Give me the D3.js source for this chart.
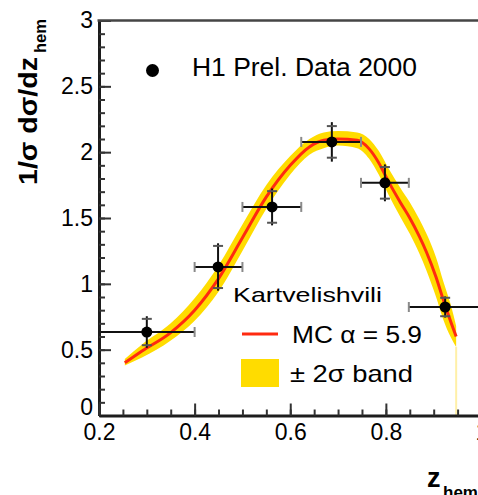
<!DOCTYPE html>
<html>
<head>
<meta charset="utf-8">
<script src="https://cdn.jsdelivr.net/npm/d3@7"></script>
<style>
  html, body { margin: 0; padding: 0; background: #fff; }
  svg { display: block; font-family: "Liberation Sans", Arial, Helvetica, sans-serif; }
</style>
</head>
<body>
<svg id="chart" width="478" height="495"></svg>
<script>
// H1 preliminary data 2000: normalised z_hem distribution
const dataZ    = [0.300, 0.449, 0.562, 0.687, 0.798, 0.924];
const dataY    = [0.634, 1.128, 1.584, 2.078, 1.767, 0.824];
const zLow     = [0.20, 0.40, 0.50, 0.623, 0.748, 0.848];
const zHigh    = [0.40, 0.50, 0.623, 0.748, 0.848, 1.00];
const errTotal = [0.12, 0.18, 0.14, 0.15, 0.14, 0.08];
const errStat  = [0.10, 0.16, 0.12, 0.12, 0.12, 0.07];

// Kartvelishvili MC prediction (alpha = 5.9) and its +-2 sigma band
const mcZ      = [0.254, 0.29, 0.35, 0.40, 0.45, 0.50, 0.55, 0.60, 0.64, 0.67, 0.70, 0.74, 0.765, 0.785, 0.805, 0.83, 0.85, 0.87, 0.885, 0.905, 0.92, 0.935, 0.947];
const mcY      = [0.40, 0.49, 0.63, 0.80, 1.04, 1.35, 1.66, 1.90, 2.04, 2.09, 2.10, 2.09, 2.025, 1.92, 1.78, 1.62, 1.50, 1.36, 1.24, 1.05, 0.88, 0.72, 0.60];
const bandLow  = [0.38, 0.44, 0.57, 0.72, 0.94, 1.25, 1.57, 1.83, 1.98, 2.03, 2.05, 2.03, 1.95, 1.83, 1.68, 1.51, 1.38, 1.23, 1.10, 0.90, 0.73, 0.60, 0.52];
const bandHigh = [0.43, 0.54, 0.70, 0.89, 1.14, 1.45, 1.75, 1.97, 2.10, 2.15, 2.16, 2.15, 2.10, 2.01, 1.88, 1.73, 1.62, 1.49, 1.38, 1.20, 1.02, 0.85, 0.68];

// Axis ticks
const xTicks      = [0.2, 0.4, 0.6, 0.8, 1.0];
const xTickLabels = ["0.2", "0.4", "0.6", "0.8", "1"];
const yTicks      = [0, 0.5, 1, 1.5, 2, 2.5, 3];
const yTickLabels = ["0", "0.5", "1", "1.5", "2", "2.5", "3"];

// Legend entries
const legendData = "H1 Prel. Data 2000";
const legendModel = "Kartvelishvili";
const legendLine = "MC \u03b1 = 5.9";
const legendBand = "\u00b1 2\u03c3 band";

const svg = d3.select("#chart");
const x = d3.scaleLinear().domain([0.2, 1.0]).range([99, 481.5]);
const y = d3.scaleLinear().domain([0, 3]).range([415.5, 20.5]);

const RED = "#ff2a10", YEL = "#ffdc00";

// band
const bandPts = mcZ.map((z, i) => ({ z, lo: bandLow[i], hi: bandHigh[i] }));
svg.append("path")
  .datum(bandPts)
  .attr("fill", YEL)
  .attr("d", d3.area().curve(d3.curveMonotoneX)
    .x(d => x(d.z)).y0(d => y(d.lo)).y1(d => y(d.hi)));
// band edge dropping to zero at the kinematic limit
const last = bandPts[bandPts.length - 1];
svg.append("line")
  .attr("x1", x(last.z)).attr("x2", x(last.z))
  .attr("y1", y(last.lo)).attr("y2", y(0))
  .attr("stroke", "#fff0a8").attr("stroke-width", 2);

// MC curve
svg.append("path")
  .datum(mcZ.map((z, i) => [z, mcY[i]]))
  .attr("fill", "none")
  .attr("stroke", RED).attr("stroke-width", 3)
  .attr("d", d3.line().curve(d3.curveMonotoneX).x(d => x(d[0])).y(d => y(d[1])));

// data points with error bars
const pts = dataZ.map((z, i) => ({ z, v: dataY[i], lo: zLow[i], hi: zHigh[i], et: errTotal[i], es: errStat[i] }));
const g = svg.append("g");
pts.forEach(p => {
  const cx = x(p.z), cy = y(p.v);
  g.append("line").attr("x1", x(p.lo)).attr("x2", x(p.hi)).attr("y1", cy).attr("y2", cy)
    .attr("stroke", "#111").attr("stroke-width", 2);
  [p.lo, p.hi].forEach(e => g.append("line")
    .attr("x1", x(e)).attr("x2", x(e)).attr("y1", cy - 5).attr("y2", cy + 5)
    .attr("stroke", "#8a8a8a").attr("stroke-width", 2));
  g.append("line").attr("x1", cx).attr("x2", cx).attr("y1", y(p.v + p.et)).attr("y2", y(p.v - p.et))
    .attr("stroke", "#111").attr("stroke-width", 2);
  [p.v + p.es, p.v - p.es].forEach(e => g.append("line")
    .attr("x1", cx - 5).attr("x2", cx + 5).attr("y1", y(e)).attr("y2", y(e))
    .attr("stroke", "#555").attr("stroke-width", 2));
  g.append("circle").attr("cx", cx).attr("cy", cy).attr("r", 5.5).attr("fill", "#000");
});

// axes
const AX = "#1c1c1c";
const yAxis = svg.append("g").attr("transform", `translate(${x(0.2)},0)`)
  .call(d3.axisLeft(y).tickValues(yTicks).tickSize(-12).tickSizeOuter(0).tickPadding(6)
    .tickFormat((d, i) => yTickLabels[i]));
svg.append("g").attr("transform", `translate(${x(0.2)},0)`)
  .call(d3.axisLeft(y).tickValues(d3.range(0, 3.001, 0.1)).tickSize(-6).tickSizeOuter(0).tickFormat(""))
  .call(a => a.select(".domain").remove())
  .selectAll("line").attr("stroke", "#333").attr("stroke-width", 2);

const xAxis = svg.append("g").attr("transform", `translate(0,${y(0)})`)
  .call(d3.axisBottom(x).tickValues(xTicks).tickSize(-12).tickSizeOuter(0).tickPadding(8)
    .tickFormat((d, i) => xTickLabels[i]));
svg.append("g").attr("transform", `translate(0,${y(0)})`)
  .call(d3.axisBottom(x).tickValues(d3.range(0.2, 1.001, 0.05)).tickSize(-6).tickSizeOuter(0).tickFormat(""))
  .call(a => a.select(".domain").remove())
  .selectAll("line").attr("stroke", "#333").attr("stroke-width", 2);

[yAxis, xAxis].forEach(a => {
  a.select(".domain").attr("stroke", AX).attr("stroke-width", 3);
  a.selectAll(".tick line").attr("stroke", "#333").attr("stroke-width", 2);
  a.selectAll("text").attr("font-size", 23).attr("fill", "#000")
    .attr("font-family", "Liberation Sans, Arial, sans-serif");
});
// lift the zero label clear of the x labels
yAxis.selectAll(".tick text").filter(d => d === 0).attr("dy", "-0.05em");

// top frame
svg.append("line").attr("x1", x(0.2) - 1.5).attr("x2", x(1.0)).attr("y1", y(3)).attr("y2", y(3))
  .attr("stroke", "#454545").attr("stroke-width", 2.5);

// axis titles
const yt = svg.append("g");
yt.append("text").attr("transform", "translate(37,185) rotate(-90)")
  .attr("font-size", 26).attr("font-weight", "bold")
  .attr("textLength", 128).attr("lengthAdjust", "spacingAndGlyphs")
  .text("1/\u03c3 d\u03c3/dz");
yt.append("text").attr("transform", "translate(46,53) rotate(-90)")
  .attr("font-size", 17).attr("font-weight", "bold")
  .attr("textLength", 34).attr("lengthAdjust", "spacingAndGlyphs")
  .text("hem");

svg.append("text").attr("x", 427).attr("y", 487)
  .attr("font-size", 27).attr("font-weight", "bold").text("z");
svg.append("text").attr("x", 443).attr("y", 498)
  .attr("font-size", 17).attr("font-weight", "bold").text("hem");

// legend
svg.append("circle").attr("cx", 152.5).attr("cy", 70.5).attr("r", 6.5).attr("fill", "#000");
svg.append("text").attr("x", 192).attr("y", 75.5).attr("font-size", 25)
  .attr("textLength", 225).attr("lengthAdjust", "spacingAndGlyphs").text(legendData);

svg.append("text").attr("x", 233).attr("y", 302).attr("font-size", 21)
  .attr("textLength", 149).attr("lengthAdjust", "spacingAndGlyphs").text(legendModel);

svg.append("line").attr("x1", 242).attr("x2", 278).attr("y1", 334).attr("y2", 334)
  .attr("stroke", RED).attr("stroke-width", 3);
svg.append("text").attr("x", 292).attr("y", 343).attr("font-size", 24)
  .attr("textLength", 130).attr("lengthAdjust", "spacingAndGlyphs").text(legendLine);

svg.append("rect").attr("x", 241).attr("y", 359).attr("width", 38).attr("height", 28).attr("fill", YEL);
svg.append("text").attr("x", 290).attr("y", 382).attr("font-size", 24)
  .attr("textLength", 123).attr("lengthAdjust", "spacingAndGlyphs").text(legendBand);
</script>
</body>
</html>
